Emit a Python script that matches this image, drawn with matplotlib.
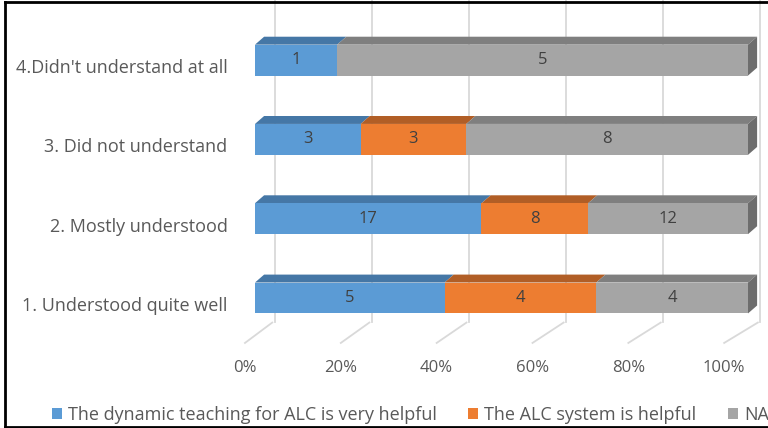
import numpy as np
import matplotlib
matplotlib.use("Agg")
import matplotlib.pyplot as plt
from matplotlib.patches import Polygon, Patch
from matplotlib.lines import Line2D
from matplotlib.transforms import ScaledTranslation

# --- DATA ---
categories = ["1. Understood quite well", "2. Mostly understood",
              "3. Did not understand", "4.Didn't understand at all"]
dynamic_helpful = [5, 17, 3, 1]
alc_helpful = [4, 8, 3, 0]
na_values = [4, 12, 8, 5]
series_names = ["The dynamic teaching for ALC is very helpful",
                "The ALC system is helpful", "NA"]
tick_pcts = [0, 20, 40, 60, 80, 100]
tick_labels = ["0%", "20%", "40%", "60%", "80%", "100%"]

# --- STYLE ---
plt.rcParams['font.family'] = ['Open Sans', 'DejaVu Sans']
TXT = "#595959"
FRONT = ["#5B9BD5", "#ED7D31", "#A5A5A5"]
TOP = ["#4577A6", "#B15E26", "#7F7F7F"]
SIDE = "#6D6D6D"
BAR_H = 0.39
DX, DY = 1.85, 0.10


def floor_front(p):
    return -2.03 + 0.972 * np.asarray(p, dtype=float)


def back_wall(p):
    return 4.0 + 0.985 * np.asarray(p, dtype=float)


fig = plt.figure(figsize=(7.68, 4.28), dpi=100)
ax = fig.add_axes([240 / 768, 83 / 428, 528 / 768, 345 / 428])
ax.set_xlim(-3.04, 104.06)
ax.set_ylim(-0.593, 3.758)

# --- back wall grid + floor ---
for p in tick_pcts:
    bx = float(back_wall(p))
    fx = float(floor_front(p))
    ax.plot([bx, bx], [-0.30, 3.758], color="#D9D9D9", lw=1.3, zorder=0)
    ax.plot([bx - 0.5, fx], [-0.31, -0.567], color="#D9D9D9", lw=1.3, zorder=0)

# --- 3D-ish stacked bars (100%) ---
data = np.array([dynamic_helpful, alc_helpful, na_values], dtype=float)
totals = data.sum(axis=0)
pct = data / totals * 100
y = np.arange(len(categories))
left = np.zeros(len(categories))
for s in range(3):
    w = pct[s]
    ax.barh(y, w, left=left, height=BAR_H, color=FRONT[s], zorder=2)
    for i in range(len(categories)):
        if data[s, i] == 0:
            continue
        l, r = left[i], left[i] + w[i]
        yt = y[i] + BAR_H / 2
        top = Polygon([(l, yt), (r, yt), (r + DX, yt + DY), (l + DX, yt + DY)],
                      closed=True, facecolor=TOP[s], edgecolor="none", zorder=1.5)
        ax.add_patch(top)
        ax.text((l + r) / 2, y[i], f"{int(data[s, i])}", ha="center", va="center",
                fontsize=12, color="#404040", zorder=3)
    left = left + w

for i in range(len(categories)):
    yb, yt = y[i] - BAR_H / 2, y[i] + BAR_H / 2
    side = Polygon([(100, yb), (100, yt), (100 + DX, yt + DY), (100 + DX, yb + DY)],
                   closed=True, facecolor=SIDE, edgecolor="none", zorder=1.5)
    ax.add_patch(side)

# --- axes ---
ax.set_yticks(y)
ax.set_yticklabels(categories, fontsize=13, color=TXT)
ax.set_xticks(floor_front(tick_pcts))
ax.set_xticklabels(tick_labels, fontsize=12, color=TXT)
ax.tick_params(axis="both", length=0)
ax.tick_params(axis="y", pad=9)
ax.tick_params(axis="x", pad=11)
for lab in ax.get_yticklabels():
    lab.set_transform(lab.get_transform() + ScaledTranslation(0, -6 / 100, fig.dpi_scale_trans))
for sp in ax.spines.values():
    sp.set_visible(False)
ax.patch.set_visible(False)

# --- legend ---
handles = [Patch(facecolor=c) for c in FRONT]
fig.legend(handles, series_names, loc="center left", bbox_to_anchor=(52 / 768, 1 - 415 / 428),
           ncol=3, frameon=False, fontsize=13, labelcolor=TXT, handlelength=0.55,
           handleheight=0.55, handletextpad=0.33, columnspacing=1.75, borderpad=0,
           borderaxespad=0)

# --- outer frame ---
fig.add_artist(Line2D([5 / 768, 1], [1 - 2 / 428, 1 - 2 / 428], color="black", lw=2, transform=fig.transFigure))
fig.add_artist(Line2D([5 / 768, 5 / 768], [1 / 428, 1 - 2 / 428], color="black", lw=2, transform=fig.transFigure))
fig.add_artist(Line2D([5 / 768, 1], [1 / 428, 1 / 428], color="black", lw=2, transform=fig.transFigure))

fig.savefig("out.png", dpi=100)
